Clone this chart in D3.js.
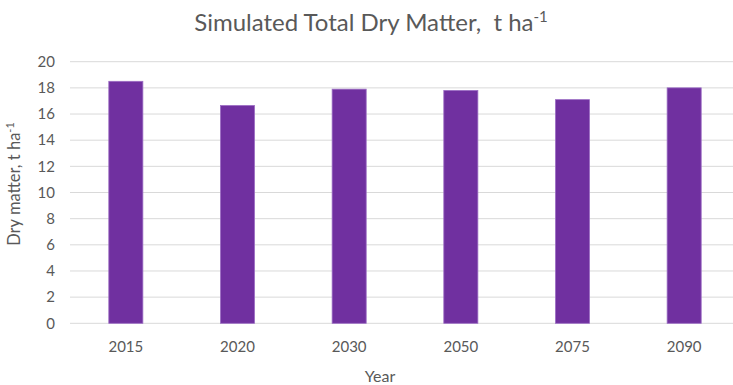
<!DOCTYPE html>
<html>
<head>
<meta charset="utf-8">
<script src="https://cdn.jsdelivr.net/npm/d3@7"></script>
<style>
  html, body { margin: 0; padding: 0; background: #fff; }
  svg { display: block; font-family: Lato, "Open Sans", sans-serif; }
</style>
</head>
<body>
<svg id="chart" width="733" height="385"></svg>
<script>
// Simulated total dry matter per scenario year (t ha-1)
const years = ["2015", "2020", "2030", "2050", "2075", "2090"];
const dryMatter = [18.5, 16.65, 17.9, 17.8, 17.1, 18.0];
const yTicks = [0, 2, 4, 6, 8, 10, 12, 14, 16, 18, 20];

const svg = d3.select("#chart");
const W = 733, H = 385;
const plot = { left: 70, right: 740, top: 61.7, bottom: 323.3 };
const textColor = "#595959";

const x = d3.scaleBand()
  .domain(years)
  .range([plot.left, plot.right])
  .paddingInner(0.695)
  .paddingOuter(0.3475);

const y = d3.scaleLinear()
  .domain([0, 20])
  .range([plot.bottom, plot.top]);

// horizontal gridlines
svg.append("g")
  .selectAll("line")
  .data(yTicks)
  .join("line")
  .attr("x1", plot.left)
  .attr("x2", W)
  .attr("y1", d => y(d))
  .attr("y2", d => y(d))
  .attr("stroke", "#d9d9d9")
  .attr("stroke-width", 1);

// bars
svg.append("g")
  .selectAll("rect")
  .data(years.map((yr, i) => ({ yr, v: dryMatter[i] })))
  .join("rect")
  .attr("x", d => x(d.yr))
  .attr("width", x.bandwidth())
  .attr("y", d => y(d.v))
  .attr("height", d => y(0) - y(d.v))
  .attr("fill", "#7030a0")
  .attr("stroke", "#9b6cc4")
  .attr("stroke-width", 0.8);

// y axis labels
const yAxis = d3.axisLeft(y).tickValues(yTicks).tickSize(0).tickPadding(15);
svg.append("g")
  .attr("transform", `translate(${plot.left},0)`)
  .call(yAxis)
  .call(g => g.select(".domain").remove())
  .call(g => g.selectAll("text")
    .attr("fill", textColor)
    .style("font-size", "15px")
    .style("font-family", "Lato, sans-serif"));

// x axis labels
const xAxis = d3.axisBottom(x).tickSize(0).tickPadding(18);
svg.append("g")
  .attr("transform", `translate(0,${plot.bottom})`)
  .call(xAxis)
  .call(g => g.select(".domain").remove())
  .call(g => g.selectAll("text")
    .attr("fill", textColor)
    .style("font-size", "15px")
    .style("font-family", "Lato, sans-serif"));

// chart title
const title = svg.append("text")
  .attr("x", 371)
  .attr("y", 31)
  .attr("text-anchor", "middle")
  .attr("fill", textColor)
  .style("white-space", "pre")
  .style("font-size", "24px");
title.append("tspan").text("Simulated Total Dry Matter,  t ha");
title.append("tspan").attr("dy", -9).style("font-size", "15px").text("-1");

// y axis title
const yTitle = svg.append("text")
  .attr("transform", "translate(20,184) rotate(-90)")
  .attr("text-anchor", "middle")
  .attr("fill", textColor)
  .style("font-size", "16.5px");
yTitle.append("tspan").text("Dry matter, t ha");
yTitle.append("tspan").attr("dy", -6).style("font-size", "11px").text("-1");

// x axis title
svg.append("text")
  .attr("x", 380)
  .attr("y", 382)
  .attr("text-anchor", "middle")
  .attr("fill", textColor)
  .style("font-size", "16px")
  .text("Year");
</script>
</body>
</html>
